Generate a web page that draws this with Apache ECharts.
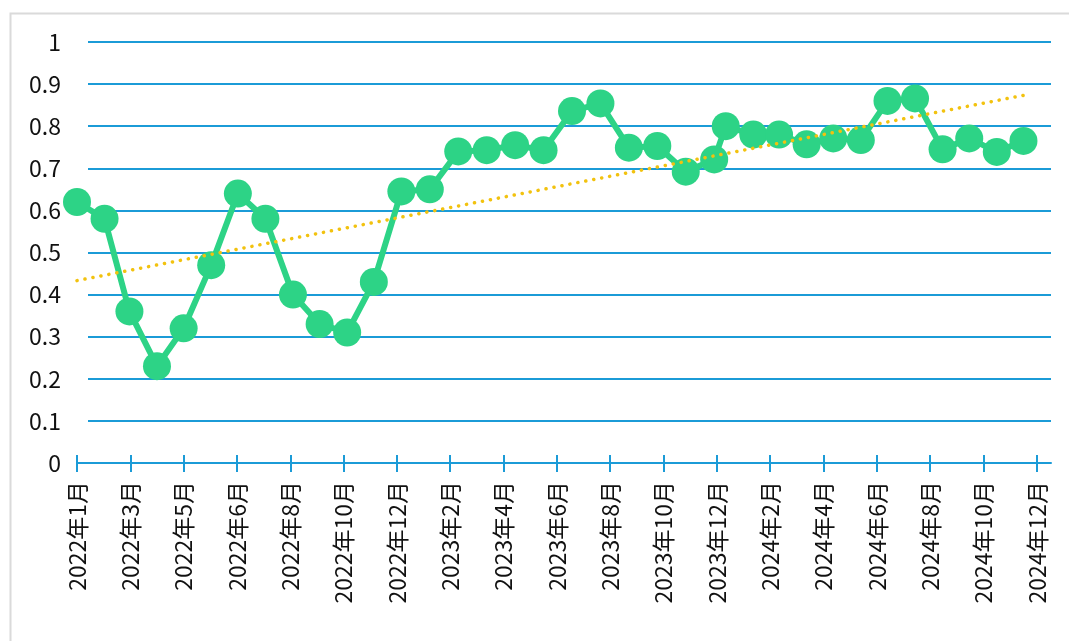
<!DOCTYPE html>
<html lang="zh">
<head>
  <meta charset="UTF-8" />
  <title>月度趋势</title>
  <script src="https://cdn.jsdelivr.net/npm/echarts@6.0.0/dist/echarts.min.js"></script>
  <style>
    html, body { margin: 0; padding: 0; background: #fff; }
    #chart { width: 1069px; height: 641px; }
  </style>
</head>
<body>
  <div id="chart"></div>

  <script>
    // dates of each point and values
    const pointDates = [
      '2022-01-01', '2022-02-01', '2022-03-01', '2022-04-01', '2022-05-01', '2022-06-01',
      '2022-07-01', '2022-08-01', '2022-09-01', '2022-10-01', '2022-11-01', '2022-12-01',
      '2023-01-01', '2023-02-02', '2023-03-06', '2023-04-07', '2023-05-09', '2023-06-10',
      '2023-07-12', '2023-08-13', '2023-09-14', '2023-10-16', '2023-11-17', '2023-12-19',
      '2024-01-01', '2024-02-01', '2024-03-01', '2024-04-01', '2024-05-01', '2024-06-01',
      '2024-07-01', '2024-08-01', '2024-09-01', '2024-10-01', '2024-11-01', '2024-12-01'
    ];
    const values = [
      0.62, 0.58, 0.36, 0.23, 0.32, 0.47, 0.64, 0.58, 0.40, 0.33, 0.31, 0.43,
      0.645, 0.65, 0.74, 0.743, 0.755, 0.743, 0.836, 0.854, 0.749, 0.753, 0.692, 0.721,
      0.80, 0.78, 0.78, 0.757, 0.771, 0.767, 0.86, 0.866, 0.745, 0.771, 0.739, 0.765
    ];

    // axis ticks: days since 2022-01-01, one every 60 days
    const tickDays = [0, 60, 120, 180, 240, 300, 360, 420, 480, 540, 600, 660, 720, 780, 840, 900, 960, 1020, 1080];
    const tickLabels = [
      '2022年1月', '2022年3月', '2022年5月', '2022年6月', '2022年8月', '2022年10月', '2022年12月',
      '2023年2月', '2023年4月', '2023年6月', '2023年8月', '2023年10月', '2023年12月',
      '2024年2月', '2024年4月', '2024年6月', '2024年8月', '2024年10月', '2024年12月'
    ];
    const axisEndDay = 1096; // 2025-01-01

    const base = Date.UTC(2022, 0, 1);
    const toDay = s => {
      const [y, m, d] = s.split('-').map(Number);
      return Math.round((Date.UTC(y, m - 1, d) - base) / 86400000);
    };
    const days = pointDates.map(toDay);
    const points = days.map((d, i) => [d, values[i]]);

    // linear trend line (least squares over the points)
    const n = days.length;
    const mx = days.reduce((a, b) => a + b, 0) / n;
    const my = values.reduce((a, b) => a + b, 0) / n;
    let sxy = 0, sxx = 0;
    for (let i = 0; i < n; i++) {
      sxy += (days[i] - mx) * (values[i] - my);
      sxx += (days[i] - mx) * (days[i] - mx);
    }
    const slope = sxy / sxx;
    const icpt = my - slope * mx;
    const x0 = days[0], x1 = days[n - 1];
    const trend = [[x0, icpt + slope * x0], [x1, icpt + slope * x1]];

    const blue = '#1b9bd7';
    const green = '#2dd386';
    const font = '"Noto Sans CJK SC", "Noto Sans", sans-serif';

    const chart = echarts.init(document.getElementById('chart'));
    chart.setOption({
      animation: false,
      backgroundColor: '#fff',
      graphic: [{
        type: 'rect', left: 8, top: 11, z: -10,
        shape: { width: 1075, height: 640 },
        style: { fill: 'none', stroke: '#dadada', lineWidth: 2 }
      }],
      grid: [
        { left: 77, right: 18, top: 42, bottom: 178 },  // data
        { left: 88, right: 18, top: 42, bottom: 178 }   // grid lines
      ],
      xAxis: [
        {
          type: 'value', gridIndex: 0, min: 0, max: axisEndDay,
          axisLine: { show: true, lineStyle: { color: blue, width: 2 } },
          axisTick: { show: true, length: 9, lineStyle: { color: blue, width: 2 }, customValues: tickDays },
          splitLine: { show: false },
          axisLabel: {
            customValues: tickDays, rotate: 90, margin: 18,
            fontSize: 23, color: '#111', fontFamily: font,
            formatter: v => tickLabels[tickDays.indexOf(Math.round(v))] || ''
          }
        },
        {
          type: 'value', gridIndex: 0, position: 'bottom', min: 0, max: axisEndDay,
          axisLine: { show: false },
          axisTick: { show: true, inside: true, length: 8, lineStyle: { color: blue, width: 2 }, customValues: tickDays },
          axisLabel: { show: false },
          splitLine: { show: false }
        },
        {
          type: 'value', gridIndex: 1, min: 0, max: 1, show: false
        }
      ],
      yAxis: [
        {
          type: 'value', gridIndex: 0, min: 0, max: 1, interval: 0.1,
          axisLine: { show: false }, axisTick: { show: false },
          splitLine: { show: false },
          axisLabel: { margin: 16, fontSize: 23, color: '#111', fontFamily: font }
        },
        {
          type: 'value', gridIndex: 1, min: 0, max: 1, interval: 0.1,
          axisLine: { show: false }, axisTick: { show: false },
          axisLabel: { show: false },
          splitLine: {
            show: true,
            lineStyle: { color: blue, width: 2 },
            showMinLine: false
          }
        }
      ],
      series: [
        {
          type: 'line', xAxisIndex: 0, yAxisIndex: 0,
          data: points,
          symbol: 'circle', symbolSize: 28,
          lineStyle: { color: green, width: 6 },
          itemStyle: { color: green },
          z: 3
        },
        {
          type: 'line', xAxisIndex: 0, yAxisIndex: 0,
          data: trend,
          symbol: 'none',
          lineStyle: { color: '#f2c20f', width: 3.5, type: [0.1, 8], cap: 'round' },
          z: 4
        }
      ]
    });
  </script>
</body>
</html>
